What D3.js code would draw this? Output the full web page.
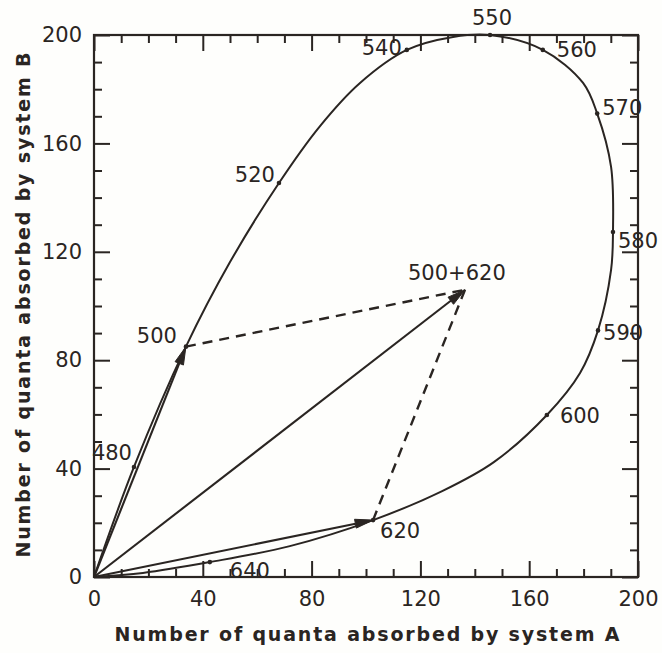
<!DOCTYPE html>
<html>
<head>
<meta charset="utf-8">
<script src="https://cdn.jsdelivr.net/npm/d3@7"></script>
<style>
  html, body { margin: 0; padding: 0; background: #fefefc; }
  svg { display: block; }
  text { font-family: "DejaVu Sans", sans-serif; fill: #2a2522; }
</style>
</head>
<body>
<svg id="chart" width="662" height="653"></svg>
<script>
// Spectral locus: quanta absorbed by system A and system B, traced from 0 round the loop back to 0
const locusA = [0, 14.7, 33.8, 50, 68, 83.1, 97.8, 115, 132, 145.6, 165, 179.8, 185, 190.1, 190.8, 190.1, 185.3, 178.7, 166.5, 147, 128, 102.6, 72, 42.6, 18, 0];
const locusB = [0, 40.6, 85, 116.2, 145.4, 166.4, 182.3, 194.5, 199.3, 200, 194.5, 182.3, 171, 151.3, 127.3, 113.3, 91, 75.3, 59.8, 42.4, 31.7, 21, 11.4, 5.5, 1.5, 0];

// Marked wavelengths (nm) on the locus
const waveLabels = ["480", "500", "520", "540", "550", "560", "570", "580", "590", "600", "620", "640"];
const waveA = [14.7, 33.8, 68, 115, 145.6, 165, 185, 190.8, 185.3, 166.5, 102.6, 42.6];
const waveB = [40.6, 85, 145.4, 194.5, 200, 194.5, 171, 127.3, 91, 59.8, 21, 5.5];

// Axis ticks
const majorTicks = [0, 40, 80, 120, 160, 200];
const minorTicks = [10, 20, 30, 50, 60, 70, 90, 100, 110, 130, 140, 150, 170, 180, 190];

const ink = "#2a2522";
const svg = d3.select("#chart");

const x = d3.scaleLinear().domain([0, 200]).range([94, 638]);
const y = d3.scaleLinear().domain([0, 200]).range([577, 35]);

// Label placement relative to each wavelength dot (px)
const labelPlace = {
  "480": [-2, -7, "end"],
  "500": [-9, -4, "end"],
  "520": [-4, -1, "end"],
  "540": [-5, 5, "end"],
  "550": [2, -10, "middle"],
  "560": [14, 7, "start"],
  "570": [5, 1, "start"],
  "580": [5, 16, "start"],
  "590": [5, 10, "start"],
  "600": [13, 8, "start"],
  "620": [7, 18, "start"],
  "640": [20, 16, "start"]
};

// ---- axes: inward ticks on all four sides ----
function addAxis(axisFn, scale, transform, size, labels) {
  const g = svg.append("g")
    .attr("transform", transform)
    .call(axisFn(scale)
      .tickValues(size > 10 ? majorTicks : minorTicks)
      .tickSizeInner(-size)
      .tickSizeOuter(0)
      .tickPadding(12)
      .tickFormat(labels ? d3.format("d") : ""));
  g.select(".domain").remove();
  g.selectAll(".tick line").attr("stroke", ink).attr("stroke-width", 2);
  g.selectAll(".tick text")
    .style("font-family", "'DejaVu Sans', sans-serif")
    .style("font-size", "21px")
    .attr("fill", ink);
  return g;
}
// minor ticks every 10
addAxis(d3.axisLeft, y, `translate(${x(0)},0)`, 8, false);
addAxis(d3.axisRight, y, `translate(${x(200)},0)`, 8, false);
addAxis(d3.axisBottom, x, `translate(0,${y(0)})`, 8, false);
addAxis(d3.axisTop, x, `translate(0,${y(200)})`, 8, false);
// major ticks every 40, labelled on the left and bottom
addAxis(d3.axisLeft, y, `translate(${x(0)},0)`, 16, true)
  .selectAll(".tick text").attr("x", -12);
addAxis(d3.axisRight, y, `translate(${x(200)},0)`, 16, false);
addAxis(d3.axisBottom, x, `translate(0,${y(0)})`, 16, true)
  .selectAll(".tick text").attr("y", 14);
addAxis(d3.axisTop, x, `translate(0,${y(200)})`, 16, false);

// frame
svg.append("rect")
  .attr("x", x(0)).attr("y", y(200))
  .attr("width", x(200) - x(0)).attr("height", y(0) - y(200))
  .attr("fill", "none").attr("stroke", ink).attr("stroke-width", 2.2);

// ---- spectral locus ----
const locus = locusA.map((a, i) => [a, locusB[i]]);
const line = d3.line().x(d => x(d[0])).y(d => y(d[1])).curve(d3.curveCatmullRom.alpha(0.5));
svg.append("path")
  .attr("d", line(locus))
  .attr("fill", "none")
  .attr("stroke", ink)
  .attr("stroke-width", 2);

// wavelength dots and labels
waveLabels.forEach((w, i) => {
  const px = x(waveA[i]), py = y(waveB[i]);
  svg.append("circle").attr("cx", px).attr("cy", py).attr("r", 2.3).attr("fill", ink);
  const p = labelPlace[w];
  svg.append("text")
    .attr("x", px + p[0]).attr("y", py + p[1])
    .attr("text-anchor", p[2])
    .style("font-size", "21px")
    .text(w);
});

// ---- stimulus vectors ----
const i500 = waveLabels.indexOf("500");
const i620 = waveLabels.indexOf("620");
const sumA = waveA[i500] + waveA[i620];
const sumB = waveB[i500] + waveB[i620];

function arrow(a0, b0, a1, b1) {
  const x0 = x(a0), y0 = y(b0), x1 = x(a1), y1 = y(b1);
  const ang = Math.atan2(y1 - y0, x1 - x0);
  const len = 18, half = 4.5;
  const bx = x1 - len * Math.cos(ang), by = y1 - len * Math.sin(ang);
  svg.append("line")
    .attr("x1", x0).attr("y1", y0).attr("x2", bx).attr("y2", by)
    .attr("stroke", ink).attr("stroke-width", 2.1);
  const nx = -Math.sin(ang) * half, ny = Math.cos(ang) * half;
  svg.append("path")
    .attr("d", `M${x1},${y1}L${bx + nx},${by + ny}L${bx - nx},${by - ny}Z`)
    .attr("fill", ink).attr("stroke", ink).attr("stroke-width", 1);
}

// dashed parallelogram sides
[[waveA[i500], waveB[i500]], [waveA[i620], waveB[i620]]].forEach(p => {
  svg.append("line")
    .attr("x1", x(p[0])).attr("y1", y(p[1]))
    .attr("x2", x(sumA)).attr("y2", y(sumB))
    .attr("stroke", ink).attr("stroke-width", 2.4)
    .attr("stroke-dasharray", "10,7");
});

arrow(0, 0, waveA[i500], waveB[i500]);
arrow(0, 0, waveA[i620], waveB[i620]);
arrow(0, 0, sumA, sumB);

svg.append("text")
  .attr("x", x(sumA) - 57).attr("y", y(sumB) - 10)
  .style("font-size", "21px")
  .text("500+620");

// ---- axis titles ----
svg.append("text")
  .attr("x", 367).attr("y", 641)
  .attr("text-anchor", "middle")
  .attr("textLength", 505).attr("lengthAdjust", "spacing")
  .style("font-size", "19px").style("font-weight", "bold")
  .text("Number of quanta absorbed by system A");

svg.append("text")
  .attr("transform", "translate(30,305) rotate(-90)")
  .attr("text-anchor", "middle")
  .attr("textLength", 505).attr("lengthAdjust", "spacing")
  .style("font-size", "19px").style("font-weight", "bold")
  .text("Number of quanta absorbed by system B");
</script>
</body>
</html>
